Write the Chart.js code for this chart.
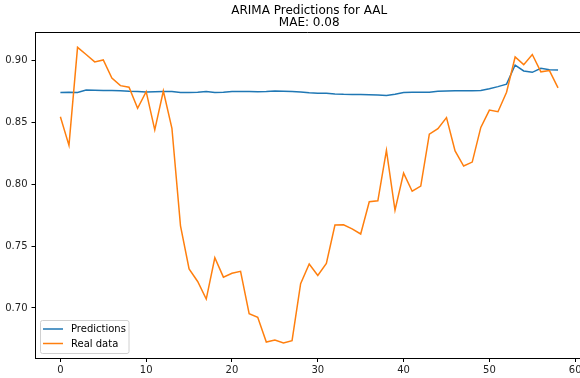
<!DOCTYPE html>
<html>
<head>
<meta charset="utf-8">
<script src="https://cdn.jsdelivr.net/npm/chart.js@4"></script>
<style>
    html, body { margin: 0; padding: 0; background: #fff; }
    #wrap { width: 580px; height: 378px; }
</style>
</head>
<body>
<div id="wrap"><canvas id="arimaChart" width="580" height="378"></canvas></div>
<script>
const timeSteps = [0, 1, 2, 3, 4, 5, 6, 7, 8, 9, 10, 11, 12, 13, 14, 15, 16, 17, 18, 19,
    20, 21, 22, 23, 24, 25, 26, 27, 28, 29, 30, 31, 32, 33, 34, 35, 36, 37, 38, 39,
    40, 41, 42, 43, 44, 45, 46, 47, 48, 49, 50, 51, 52, 53, 54, 55, 56, 57, 58];

const predictions = [0.8742, 0.8745, 0.8742, 0.8762, 0.8761, 0.8759, 0.8758, 0.8756, 0.8752, 0.8750,
    0.8746, 0.8748, 0.8750, 0.8750, 0.8742, 0.8742, 0.8744, 0.8750, 0.8743, 0.8745,
    0.8750, 0.8750, 0.8750, 0.8749, 0.8750, 0.8755, 0.8753, 0.8750, 0.8746, 0.8740,
    0.8736, 0.8736, 0.8731, 0.8728, 0.8727, 0.8726, 0.8724, 0.8722, 0.8719, 0.8728,
    0.8743, 0.8745, 0.8745, 0.8745, 0.8753, 0.8755, 0.8757, 0.8757, 0.8757, 0.8759,
    0.8773, 0.8790, 0.8810, 0.8965, 0.8917, 0.8906, 0.8938, 0.8927, 0.8925];

const realData = [0.8547, 0.8315, 0.9108, 0.9050, 0.8990, 0.9006, 0.8860, 0.8798, 0.8785, 0.8615,
    0.8750, 0.8440, 0.8755, 0.8453, 0.7664, 0.7316, 0.7214, 0.7072, 0.7406, 0.7249,
    0.7280, 0.7296, 0.6953, 0.6924, 0.6724, 0.6740, 0.6716, 0.6735, 0.7196, 0.7355,
    0.7262, 0.7360, 0.7671, 0.7673, 0.7640, 0.7598, 0.7859, 0.7867, 0.8275, 0.7790,
    0.8091, 0.7944, 0.7986, 0.8405, 0.8450, 0.8540, 0.8270, 0.8148, 0.8180, 0.8460,
    0.8600, 0.8587, 0.8745, 0.9030, 0.8968, 0.9050, 0.8910, 0.8920, 0.8780];

const xTicks = [0, 10, 20, 30, 40, 50, 60];
const yTicks = [0.70, 0.75, 0.80, 0.85, 0.90];

const titleLines = ["ARIMA Predictions for AAL", "MAE: 0.08"];

const toPoints = (values) => values.map((v, i) => ({ x: timeSteps[i], y: v }));

const FONT = "'DejaVu Sans', sans-serif";

// title, top spine and legend box drawn like matplotlib
const decorPlugin = {
    id: "decor",
    afterDraw(chart) {
        const ctx = chart.ctx;
        const area = chart.chartArea;
        const xs = chart.scales.x;

        ctx.save();
        // top spine
        ctx.strokeStyle = "#000";
        ctx.lineWidth = 1;
        ctx.beginPath();
        ctx.moveTo(area.left, 32.5);
        ctx.lineTo(area.right, 32.5);
        ctx.stroke();

        // title centred on the full axes (which run past the canvas edge)
        const cx = (xs.getPixelForValue(-2.9) + xs.getPixelForValue(60.9)) / 2;
        ctx.fillStyle = "#000";
        ctx.font = "12px " + FONT;
        ctx.textAlign = "center";
        ctx.textBaseline = "middle";
        ctx.fillText(titleLines[0], cx, 10.5);
        ctx.fillText(titleLines[1], cx, 22.5);

        // legend
        const bx = 40.5, by = 320.5, bw = 88.5, bh = 33;
        ctx.fillStyle = "rgba(255,255,255,0.8)";
        ctx.strokeStyle = "#d0d0d0";
        ctx.beginPath();
        ctx.roundRect(bx, by, bw, bh, 2);
        ctx.fill();
        ctx.stroke();

        ctx.font = "10px " + FONT;
        ctx.textAlign = "left";
        chart.data.datasets.forEach((ds, i) => {
            const ly = 329 + i * 14.5;
            ctx.strokeStyle = ds.borderColor;
            ctx.lineWidth = 1.5;
            ctx.beginPath();
            ctx.moveTo(43, ly);
            ctx.lineTo(63, ly);
            ctx.stroke();
            ctx.fillStyle = "#000";
            ctx.fillText(ds.label, 71, ly + 0.5);
        });
        ctx.restore();
    }
};

new Chart(document.getElementById("arimaChart"), {
    type: "line",
    data: {
        datasets: [
            {
                label: "Predictions",
                data: toPoints(predictions),
                borderColor: "#1f77b4",
                borderWidth: 1.5,
                pointRadius: 0,
                tension: 0,
                order: 1
            },
            {
                label: "Real data",
                data: toPoints(realData),
                borderColor: "#ff7f0e",
                borderWidth: 1.5,
                pointRadius: 0,
                tension: 0,
                order: 0
            }
        ]
    },
    options: {
        responsive: false,
        animation: false,
        layout: { padding: { top: 32.5, left: 0, right: 0, bottom: 0 } },
        plugins: {
            legend: { display: false },
            title: { display: false },
            tooltip: { enabled: false }
        },
        scales: {
            x: {
                type: "linear",
                min: -2.9,
                max: 60.56,
                afterBuildTicks: (scale) => { scale.ticks = xTicks.map(v => ({ value: v })); },
                afterFit: (scale) => {
                    scale.height = 20;
                    scale.paddingLeft = 0;
                    scale.paddingRight = 0;
                },
                grid: { drawOnChartArea: false, tickLength: 4, color: "#000", tickColor: "#000" },
                border: { display: true, color: "#000", width: 1 },
                ticks: {
                    padding: 2,
                    maxRotation: 0,
                    autoSkip: false,
                    color: "#222",
                    font: { family: FONT, size: 10 },
                    callback: (v) => String(v)
                }
            },
            y: {
                min: 0.6595,
                max: 0.9228,
                afterBuildTicks: (scale) => { scale.ticks = yTicks.map(v => ({ value: v })); },
                afterFit: (scale) => {
                    scale.width = 35.5;
                    scale.paddingTop = 0;
                    scale.paddingBottom = 0;
                },
                grid: { drawOnChartArea: false, tickLength: 4, color: "#000", tickColor: "#000" },
                border: { display: true, color: "#000", width: 1 },
                ticks: {
                    padding: 4,
                    autoSkip: false,
                    color: "#222",
                    font: { family: FONT, size: 10 },
                    callback: (v) => v.toFixed(2)
                }
            }
        }
    },
    plugins: [decorPlugin]
});
</script>
</body>
</html>
